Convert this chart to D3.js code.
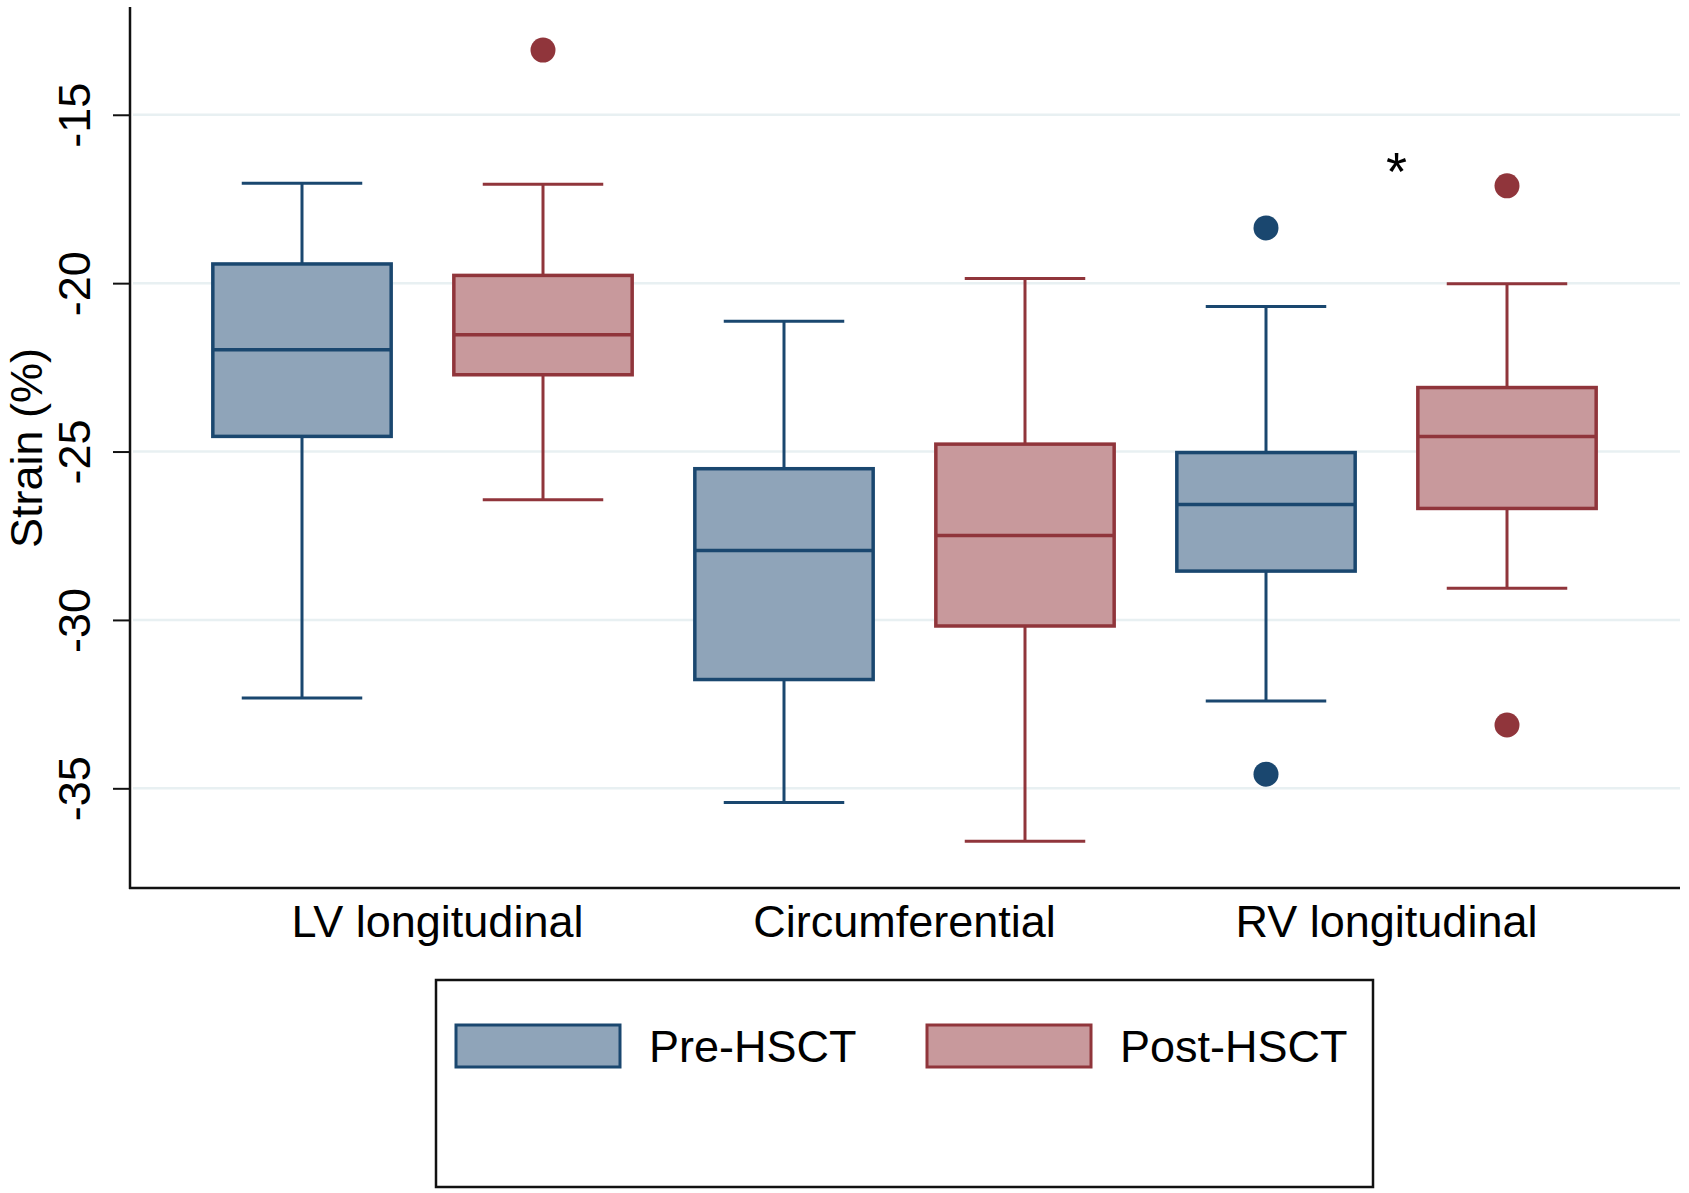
<!DOCTYPE html>
<html>
<head>
<meta charset="utf-8">
<script src="https://cdn.jsdelivr.net/npm/d3@7"></script>
<style>
  body { margin: 0; background: #fff; }
  text { font-family: "Liberation Sans", Arial, sans-serif; }
</style>
</head>
<body>
<div id="chart"></div>
<script>
// Data
var categories = ["LV longitudinal", "Circumferential", "RV longitudinal"];
var series = ["Pre-HSCT", "Post-HSCT"];
var yTicks = [-35, -30, -25, -20, -15];

// per series, per category
var whiskerHigh = [[-17.03, -21.13, -20.69], [-17.06, -19.86, -20.02]];
var upperQ     = [[-19.43, -25.51, -25.03], [-19.77, -24.78, -23.10]];
var medians    = [[-21.98, -27.94, -26.57], [-21.53, -27.49, -24.55]];
var lowerQ     = [[-24.55, -31.77, -28.55], [-22.72, -30.18, -26.69]];
var whiskerLow = [[-32.32, -35.42, -32.41], [-26.43, -36.57, -29.06]];
var outliers   = [[[], [], [-18.36, -34.58]], [[-13.08], [], [-17.11, -33.12]]];

var starCategory = "RV longitudinal", starValue = -16.35;

var strokeCol = ["#1a476f", "#90353b"];
var fillCol = ["#8fa4b9", "#c8999c"];

var width = 1689, height = 1193;
var fontSize = 45;

var svg = d3.select("#chart").append("svg")
    .attr("width", width)
    .attr("height", height);

var y = d3.scaleLinear()
    .domain([-37.96, -11.8])
    .range([888, 7]);

var x0 = d3.scaleBand()
    .domain(categories)
    .range([181.5, 1627.5]);

var x1 = d3.scaleBand()
    .domain(series)
    .range([0, x0.bandwidth()]);

var boxW = x1.bandwidth() * 0.74,
    capW = x1.bandwidth() * 0.5;

// grid lines
svg.append("g")
    .selectAll("line")
    .data(yTicks)
    .enter().append("line")
    .attr("x1", 133)
    .attr("x2", 1680)
    .attr("y1", function(d) { return y(d); })
    .attr("y2", function(d) { return y(d); })
    .attr("stroke", "#e8f0f2")
    .attr("stroke-width", 2.5);

// y axis
var yAxis = svg.append("g")
    .attr("transform", "translate(130,0)")
    .call(d3.axisLeft(y).tickValues(yTicks).tickSize(17).tickPadding(0)
        .tickFormat(function(d) { return String(d); }));
yAxis.select(".domain").remove();
yAxis.selectAll(".tick line").attr("stroke", "#111").attr("stroke-width", 2);
yAxis.selectAll(".tick text")
    .attr("transform", "rotate(-90)")
    .attr("x", 0)
    .attr("y", -40)
    .attr("dy", 0)
    .attr("text-anchor", "middle")
    .attr("font-size", fontSize)
    .attr("fill", "#000");

// axis lines
svg.append("line")
    .attr("x1", 130).attr("x2", 130)
    .attr("y1", 7).attr("y2", 889)
    .attr("stroke", "#111").attr("stroke-width", 2.5);
svg.append("line")
    .attr("x1", 129).attr("x2", 1680)
    .attr("y1", 888).attr("y2", 888)
    .attr("stroke", "#111").attr("stroke-width", 2.5);

// y label
svg.append("text")
    .attr("transform", "translate(42,448) rotate(-90)")
    .attr("text-anchor", "middle")
    .attr("font-size", fontSize)
    .text("Strain (%)");

// x axis labels
var xAxis = svg.append("g")
    .attr("transform", "translate(0,888)")
    .call(d3.axisBottom(x0).tickSize(0).tickPadding(0));
xAxis.select(".domain").remove();
xAxis.selectAll(".tick text")
    .attr("y", 49)
    .attr("dy", 0)
    .attr("font-size", fontSize)
    .attr("fill", "#000")
    .attr("dx", function(d, i) { return i === 0 ? 15 : 0; });

// boxes
series.forEach(function(s, si) {
    var g = svg.append("g");
    categories.forEach(function(c, ci) {
        var cx = x0(c) + x1(s) + x1.bandwidth() / 2;
        // whiskers
        g.append("line")
            .attr("x1", cx).attr("x2", cx)
            .attr("y1", y(whiskerHigh[si][ci])).attr("y2", y(upperQ[si][ci]))
            .attr("stroke", strokeCol[si]).attr("stroke-width", 3);
        g.append("line")
            .attr("x1", cx).attr("x2", cx)
            .attr("y1", y(lowerQ[si][ci])).attr("y2", y(whiskerLow[si][ci]))
            .attr("stroke", strokeCol[si]).attr("stroke-width", 3);
        [whiskerHigh[si][ci], whiskerLow[si][ci]].forEach(function(v) {
            g.append("line")
                .attr("x1", cx - capW / 2).attr("x2", cx + capW / 2)
                .attr("y1", y(v)).attr("y2", y(v))
                .attr("stroke", strokeCol[si]).attr("stroke-width", 3);
        });
        // box
        g.append("rect")
            .attr("x", cx - boxW / 2)
            .attr("y", y(upperQ[si][ci]))
            .attr("width", boxW)
            .attr("height", y(lowerQ[si][ci]) - y(upperQ[si][ci]))
            .attr("fill", fillCol[si])
            .attr("stroke", strokeCol[si])
            .attr("stroke-width", 3.5);
        g.append("line")
            .attr("x1", cx - boxW / 2).attr("x2", cx + boxW / 2)
            .attr("y1", y(medians[si][ci])).attr("y2", y(medians[si][ci]))
            .attr("stroke", strokeCol[si]).attr("stroke-width", 3.5);
        // outliers
        g.selectAll("circle.o" + ci)
            .data(outliers[si][ci])
            .enter().append("circle")
            .attr("cx", cx)
            .attr("cy", function(d) { return y(d); })
            .attr("r", 12.5)
            .attr("fill", strokeCol[si]);
    });
});

// significance star
svg.append("text")
    .attr("x", x0(starCategory) + x0.bandwidth() / 2 + 10)
    .attr("y", y(starValue) + 30)
    .attr("text-anchor", "middle")
    .attr("font-size", 54)
    .text("*");

// legend
var legend = svg.append("g");
legend.append("rect")
    .attr("x", 436).attr("y", 980)
    .attr("width", 937).attr("height", 207)
    .attr("fill", "#fff")
    .attr("stroke", "#111")
    .attr("stroke-width", 2.5);

var legX = [456, 927];
series.forEach(function(s, i) {
    legend.append("rect")
        .attr("x", legX[i]).attr("y", 1025)
        .attr("width", 164).attr("height", 42)
        .attr("fill", fillCol[i])
        .attr("stroke", strokeCol[i])
        .attr("stroke-width", 3);
    legend.append("text")
        .attr("x", legX[i] + 193)
        .attr("y", 1062)
        .attr("font-size", fontSize)
        .text(s);
});
</script>
</body>
</html>
